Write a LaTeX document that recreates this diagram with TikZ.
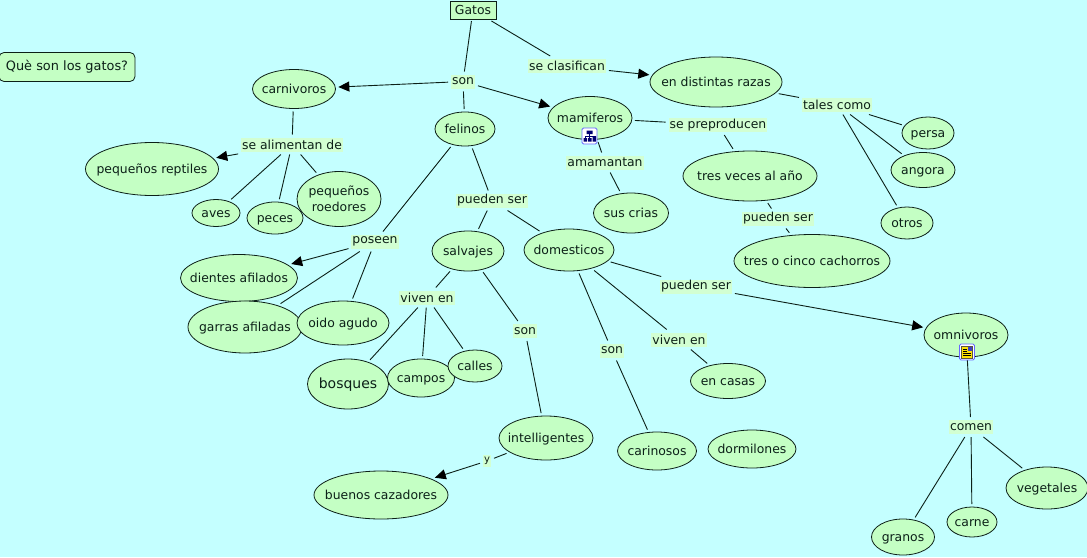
\documentclass[tikz,border=0pt]{standalone}
\usepackage{fontspec}
\setmainfont{DejaVu Sans}
\usetikzlibrary{arrows.meta,shapes.geometric,backgrounds}
\definecolor{bgc}{HTML}{C4FFFF}
\definecolor{nodec}{HTML}{C4FFC4}
\definecolor{labc}{HTML}{D2FFD2}
\definecolor{inkc}{HTML}{0C2018}
\newcommand{\tx}[1]{\makebox[0pt]{\raisebox{-4.4pt}[0pt][0pt]{\begin{tabular}{@{}c@{}}#1\end{tabular}}}}
\tikzset{
 x=1pt,y=-1pt,
 every node/.style={font=\fontsize{12.4}{14}\selectfont,text=inkc,align=center},
 con/.style={draw=inkc,line width=0.9pt},
 arr/.style={con,-{Triangle[length=11pt,width=10pt,color=black]}},
 ell/.style={ellipse,draw=inkc,line width=0.8pt,fill=nodec,inner sep=0pt,outer sep=3pt},
 lab/.style={fill=labc,inner xsep=1pt,inner ysep=0pt,minimum height=14pt,outer sep=3pt},
 icon/.style={draw=blue!60!white,rounded corners=1.5pt,line width=0.8pt,fill=white,minimum width=15pt,minimum height=16pt,inner sep=0pt}
}
\begin{document}
\begin{tikzpicture}
\useasboundingbox[fill=bgc] (0,0) rectangle (1087,557);
% concepts
\node[draw=inkc,line width=0.9pt,fill=nodec,minimum width=46pt,minimum height=18pt,inner sep=0pt,outer sep=2pt] (gatos) at (473,10) {Gatos};
\node[draw=inkc,line width=0.8pt,fill=nodec,rounded corners=5pt,minimum width=136pt,minimum height=29pt,inner sep=0pt,font=\fontsize{12.9}{14}\selectfont] (que) at (67,67) {Què son los gatos?};
\node[ell,minimum width=83pt,minimum height=39pt] (carn) at (294,89) {\tx{carnivoros}};
\node[ell,minimum width=132pt,minimum height=50pt] (razas) at (716,82) {\tx{en distintas razas}};
\node[ell,minimum width=60pt,minimum height=34pt] (fel) at (465,129) {\tx{felinos}};
\node[ell,minimum width=84pt,minimum height=43pt] (mam) at (590,118) {\tx{mamiferos}};
\node[ell,minimum width=75pt,minimum height=40pt] (crias) at (631,213) {\tx{sus crias}};
\node[ell,minimum width=134pt,minimum height=50pt] (tres) at (750,176) {\tx{tres veces al año}};
\node[ell,minimum width=156pt,minimum height=53pt] (cach) at (812,261) {\tx{tres o cinco cachorros}};
\node[ell,minimum width=52pt,minimum height=32pt] (persa) at (928,133) {\tx{persa}};
\node[ell,minimum width=64pt,minimum height=35pt] (angora) at (923,170) {\tx{angora}};
\node[ell,minimum width=52pt,minimum height=32pt] (otros) at (907,223) {\tx{otros}};
\node[ell,minimum width=133pt,minimum height=53pt] (rept) at (152,169) {\tx{pequeños reptiles}};
\node[ell,minimum width=48pt,minimum height=27pt] (aves) at (216,213) {\tx{aves}};
\node[ell,minimum width=56pt,minimum height=32pt] (peces) at (275,218) {\tx{peces}};
\node[ell,minimum width=84pt,minimum height=55pt,font=\fontsize{12.4}{16}\selectfont] (roed) at (339,199) {\tx{pequeños\\roedores}};
\node[ell,minimum width=117pt,minimum height=47pt] (dient) at (239,278) {\tx{dientes afilados}};
\node[ell,minimum width=114pt,minimum height=52pt] (garras) at (245,327) {\tx{garras afiladas}};
\node[ell,minimum width=92pt,minimum height=44pt] (oido) at (343,323) {\tx{oido agudo}};
\node[ell,minimum width=72pt,minimum height=40pt] (salv) at (468,251) {\tx{salvajes}};
\node[ell,minimum width=90pt,minimum height=42pt] (dom) at (569,250) {\tx{domesticos}};
\node[ell,minimum width=81pt,minimum height=50pt,font=\fontsize{14}{16}\selectfont] (bosq) at (348,384) {\tx{bosques}};
\node[ell,minimum width=67pt,minimum height=38pt] (camp) at (421,378) {\tx{campos}};
\node[ell,minimum width=54pt,minimum height=32pt] (call) at (475,366) {\tx{calles}};
\node[ell,minimum width=94pt,minimum height=44pt] (intel) at (546,438) {\tx{intelligentes}};
\node[ell,minimum width=134pt,minimum height=48pt] (buen) at (381,495) {\tx{buenos cazadores}};
\node[ell,minimum width=75pt,minimum height=35pt] (casas) at (728,381) {\tx{en casas}};
\node[ell,minimum width=79pt,minimum height=38pt] (carin) at (657,451) {\tx{carinosos}};
\node[ell,minimum width=88pt,minimum height=38pt] (dorm) at (752,449) {\tx{dormilones}};
\node[ell,minimum width=84pt,minimum height=44pt] (omni) at (966,335) {\tx{omnivoros}};
\node[ell,minimum width=63pt,minimum height=36pt] (gran) at (903,537) {\tx{granos}};
\node[ell,minimum width=50pt,minimum height=30pt] (carne) at (972,522) {\tx{carne}};
\node[ell,minimum width=82pt,minimum height=42pt] (veg) at (1047,488) {\tx{vegetales}};
% linking phrases
\node[lab] (lson) at (463,81.5) {son};
\node[lab] (lclas) at (567,66) {se clasifican};
\node[lab] (lprep) at (718,125) {se preproducen};
\node[lab] (lamam) at (605,162.5) {amamantan};
\node[lab] (lpue1) at (778,218.5) {pueden ser};
\node[lab] (ltal) at (837,104.5) {tales como};
\node[lab] (lali) at (292,144.5) {se alimentan de};
\node[lab] (lpos) at (375,241.5) {poseen};
\node[lab] (lpue2) at (492,200.5) {pueden ser};
\node[lab] (lviv1) at (427,297.5) {viven en};
\node[lab] (lson2) at (525,331) {son};
\node[lab,minimum height=12pt,font=\fontsize{10}{12}\selectfont] (ly) at (487,461) {y};
\node[lab] (lpue3) at (696,286.5) {pueden ser};
\node[lab] (lviv2) at (679,339.5) {viven en};
\node[lab] (lson3) at (612,350.5) {son};
\node[lab] (lcom) at (971,427) {comen};
% connectors
\draw[con] (gatos) -- (lson);
\draw[con] (gatos) -- (lclas);
\draw[arr] (lclas) -- (razas);
\draw[arr] (lson) -- (carn);
\draw[arr] (lson) -- (mam);
\draw[con] (lson) -- (fel);
\draw[con] (carn) -- (lali);
\draw[arr] (lali) -- (rept);
\draw[con] (lali) -- (aves);
\draw[con] (lali) -- (peces);
\draw[con] (lali) -- (roed);
\draw[con] (fel) -- (lpos);
\draw[arr] (lpos) -- (dient);
\draw[con] (lpos) -- (garras);
\draw[con] (lpos) -- (oido);
\draw[con] (fel) -- (lpue2);
\draw[con] (lpue2) -- (salv);
\draw[con] (lpue2) -- (dom);
\draw[con] (salv) -- (lviv1);
\draw[con] (lviv1) -- (bosq);
\draw[con] (lviv1) -- (camp);
\draw[con] (lviv1) -- (call);
\draw[con] (salv) -- (lson2);
\draw[con] (lson2) -- (intel);
\draw[con] (intel) -- (ly);
\draw[arr] (ly) -- (buen);
\draw[con] (dom) -- (lpue3);
\draw[arr] (lpue3) -- (omni);
\draw[con] (dom) -- (lviv2);
\draw[con] (lviv2) -- (casas);
\draw[con] (dom) -- (lson3);
\draw[con] (lson3) -- (carin);
\draw[con] (omni) -- (lcom);
\draw[con] (lcom) -- (gran);
\draw[con] (lcom) -- (carne);
\draw[con] (lcom) -- (veg);
\draw[con] (mam) -- (lprep);
\draw[con] (lprep) -- (tres);
\draw[con] (tres) -- (lpue1);
\draw[con] (lpue1) -- (cach);
\draw[con] (razas) -- (ltal);
\draw[con] (ltal) -- (persa);
\draw[con] (ltal) -- (angora);
\draw[con] (ltal) -- (otros);
\draw[con] (mam) -- (lamam);
\draw[con] (lamam) -- (crias);
% icons
\node[icon] (ic1) at (589.5,136) {};
\fill[blue!45!black] (586.5,130.5) rectangle (592.5,134) (583.5,138) rectangle (587,141.5) (588,138) rectangle (591.5,141.5) (592.5,136) rectangle (596,141.5);
\draw[blue!45!black,line width=0.5pt] (589.5,134) -- (589.5,138) (585,138) -- (585,136) -- (594,136);
\node[icon] (ic2) at (967,352) {};
\fill[black!75!yellow] (961,345.5) rectangle (973,358.5);
\fill[yellow!85!orange] (962,346.5) rectangle (972,357.5);
\fill[blue!50!gray] (967.5,346.5) rectangle (972,351);
\draw[black,line width=0.5pt] (963,349) -- (966.5,349) (963,351) -- (966.5,351) (963,353) -- (971,353) (963,355) -- (971,355);
\end{tikzpicture}
\end{document}
